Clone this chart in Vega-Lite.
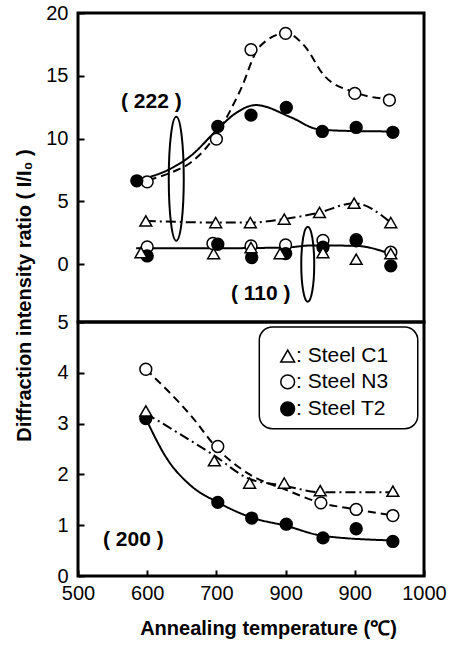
{
  "$schema": "https://vega.github.io/schema/vega-lite/v6.json",
  "background": "white",
  "padding": {"left": 12, "top": 1, "right": 5, "bottom": 5},
  "spacing": 0,
  "bounds": "flush",
  "config": {
    "font": "Liberation Sans",
    "view": {"stroke": "black", "strokeWidth": 3},
    "axis": {
      "labelFont": "Liberation Sans", "labelFontSize": 20, "labelColor": "black", "labelFlush": false,
      "titleFont": "Liberation Sans", "titleFontSize": 20, "titleFontWeight": "bold", "titleColor": "black",
      "domain": false, "grid": false, "tickColor": "black", "tickWidth": 2, "tickSize": 6, "offset": -6, "labelPadding": 10
    }
  },
  "datasets": {
    "points": [
      {"panel": "top", "series": "Steel N3", "x": 600, "y": 6.56},
      {"panel": "top", "series": "Steel N3", "x": 700, "y": 9.96},
      {"panel": "top", "series": "Steel N3", "x": 750, "y": 17.08},
      {"panel": "top", "series": "Steel N3", "x": 800, "y": 18.38},
      {"panel": "top", "series": "Steel N3", "x": 900, "y": 13.6},
      {"panel": "top", "series": "Steel N3", "x": 950, "y": 13.07},
      {"panel": "top", "series": "Steel N3", "x": 600, "y": 1.38},
      {"panel": "top", "series": "Steel N3", "x": 695, "y": 1.65},
      {"panel": "top", "series": "Steel N3", "x": 750, "y": 1.46},
      {"panel": "top", "series": "Steel N3", "x": 800, "y": 1.54},
      {"panel": "top", "series": "Steel N3", "x": 854, "y": 1.9},
      {"panel": "top", "series": "Steel N3", "x": 902, "y": 1.95},
      {"panel": "top", "series": "Steel N3", "x": 952, "y": 0.95},
      {"panel": "top", "series": "Steel T2", "x": 585, "y": 6.64},
      {"panel": "top", "series": "Steel T2", "x": 702, "y": 10.97},
      {"panel": "top", "series": "Steel T2", "x": 750, "y": 11.87},
      {"panel": "top", "series": "Steel T2", "x": 801, "y": 12.48},
      {"panel": "top", "series": "Steel T2", "x": 853, "y": 10.57},
      {"panel": "top", "series": "Steel T2", "x": 902, "y": 10.89},
      {"panel": "top", "series": "Steel T2", "x": 955, "y": 10.5},
      {"panel": "top", "series": "Steel T2", "x": 600, "y": 0.66},
      {"panel": "top", "series": "Steel T2", "x": 702, "y": 1.59},
      {"panel": "top", "series": "Steel T2", "x": 751, "y": 0.53},
      {"panel": "top", "series": "Steel T2", "x": 800, "y": 0.85},
      {"panel": "top", "series": "Steel T2", "x": 854, "y": 1.35},
      {"panel": "top", "series": "Steel T2", "x": 902, "y": 1.86},
      {"panel": "top", "series": "Steel T2", "x": 952, "y": -0.13},
      {"panel": "top", "series": "Steel C1", "x": 598, "y": 3.45},
      {"panel": "top", "series": "Steel C1", "x": 699, "y": 3.32},
      {"panel": "top", "series": "Steel C1", "x": 749, "y": 3.32},
      {"panel": "top", "series": "Steel C1", "x": 798, "y": 3.59},
      {"panel": "top", "series": "Steel C1", "x": 849, "y": 4.12},
      {"panel": "top", "series": "Steel C1", "x": 899, "y": 4.86},
      {"panel": "top", "series": "Steel C1", "x": 952, "y": 3.32},
      {"panel": "top", "series": "Steel C1", "x": 591, "y": 0.93},
      {"panel": "top", "series": "Steel C1", "x": 696, "y": 0.85},
      {"panel": "top", "series": "Steel C1", "x": 750, "y": 1.33},
      {"panel": "top", "series": "Steel C1", "x": 792, "y": 0.85},
      {"panel": "top", "series": "Steel C1", "x": 854, "y": 0.93},
      {"panel": "top", "series": "Steel C1", "x": 902, "y": 0.4},
      {"panel": "top", "series": "Steel C1", "x": 952, "y": 0.85},
      {"panel": "bottom", "series": "Steel N3", "x": 598, "y": 4.07},
      {"panel": "bottom", "series": "Steel N3", "x": 702, "y": 2.55},
      {"panel": "bottom", "series": "Steel N3", "x": 851, "y": 1.44},
      {"panel": "bottom", "series": "Steel N3", "x": 902, "y": 1.31},
      {"panel": "bottom", "series": "Steel N3", "x": 955, "y": 1.19},
      {"panel": "bottom", "series": "Steel T2", "x": 598, "y": 3.1},
      {"panel": "bottom", "series": "Steel T2", "x": 702, "y": 1.45},
      {"panel": "bottom", "series": "Steel T2", "x": 751, "y": 1.14},
      {"panel": "bottom", "series": "Steel T2", "x": 801, "y": 1.02},
      {"panel": "bottom", "series": "Steel T2", "x": 854, "y": 0.75},
      {"panel": "bottom", "series": "Steel T2", "x": 902, "y": 0.93},
      {"panel": "bottom", "series": "Steel T2", "x": 955, "y": 0.68},
      {"panel": "bottom", "series": "Steel C1", "x": 598, "y": 3.25},
      {"panel": "bottom", "series": "Steel C1", "x": 697, "y": 2.27},
      {"panel": "bottom", "series": "Steel C1", "x": 748, "y": 1.83},
      {"panel": "bottom", "series": "Steel C1", "x": 798, "y": 1.83},
      {"panel": "bottom", "series": "Steel C1", "x": 850, "y": 1.68},
      {"panel": "bottom", "series": "Steel C1", "x": 955, "y": 1.67}
    ],
    "curves": [
      {"panel": "top", "curve": "222-T2", "series": "Steel T2", "x": 585, "y": 6.7},
      {"panel": "top", "curve": "222-T2", "series": "Steel T2", "x": 630, "y": 7.5},
      {"panel": "top", "curve": "222-T2", "series": "Steel T2", "x": 663, "y": 8.63},
      {"panel": "top", "curve": "222-T2", "series": "Steel T2", "x": 702, "y": 10.76},
      {"panel": "top", "curve": "222-T2", "series": "Steel T2", "x": 726, "y": 11.95},
      {"panel": "top", "curve": "222-T2", "series": "Steel T2", "x": 757, "y": 12.67},
      {"panel": "top", "curve": "222-T2", "series": "Steel T2", "x": 808, "y": 11.69},
      {"panel": "top", "curve": "222-T2", "series": "Steel T2", "x": 846, "y": 10.76},
      {"panel": "top", "curve": "222-T2", "series": "Steel T2", "x": 885, "y": 10.62},
      {"panel": "top", "curve": "222-T2", "series": "Steel T2", "x": 955, "y": 10.57},
      {"panel": "top", "curve": "222-N3", "series": "Steel N3", "x": 602, "y": 6.7},
      {"panel": "top", "curve": "222-N3", "series": "Steel N3", "x": 639, "y": 7.4},
      {"panel": "top", "curve": "222-N3", "series": "Steel N3", "x": 663, "y": 8.1},
      {"panel": "top", "curve": "222-N3", "series": "Steel N3", "x": 702, "y": 10.5},
      {"panel": "top", "curve": "222-N3", "series": "Steel N3", "x": 735, "y": 13.9},
      {"panel": "top", "curve": "222-N3", "series": "Steel N3", "x": 762, "y": 17.3},
      {"panel": "top", "curve": "222-N3", "series": "Steel N3", "x": 801, "y": 18.4},
      {"panel": "top", "curve": "222-N3", "series": "Steel N3", "x": 827, "y": 17.4},
      {"panel": "top", "curve": "222-N3", "series": "Steel N3", "x": 856, "y": 15.0},
      {"panel": "top", "curve": "222-N3", "series": "Steel N3", "x": 899, "y": 13.7},
      {"panel": "top", "curve": "222-N3", "series": "Steel N3", "x": 955, "y": 13.1},
      {"panel": "top", "curve": "222-C1", "series": "Steel C1", "x": 598, "y": 3.45},
      {"panel": "top", "curve": "222-C1", "series": "Steel C1", "x": 699, "y": 3.32},
      {"panel": "top", "curve": "222-C1", "series": "Steel C1", "x": 749, "y": 3.32},
      {"panel": "top", "curve": "222-C1", "series": "Steel C1", "x": 798, "y": 3.59},
      {"panel": "top", "curve": "222-C1", "series": "Steel C1", "x": 849, "y": 4.12},
      {"panel": "top", "curve": "222-C1", "series": "Steel C1", "x": 899, "y": 4.86},
      {"panel": "top", "curve": "222-C1", "series": "Steel C1", "x": 952, "y": 3.32},
      {"panel": "top", "curve": "110-T2", "series": "Steel T2", "x": 584, "y": 1.27},
      {"panel": "top", "curve": "110-T2", "series": "Steel T2", "x": 690, "y": 1.27},
      {"panel": "top", "curve": "110-T2", "series": "Steel T2", "x": 800, "y": 1.33},
      {"panel": "top", "curve": "110-T2", "series": "Steel T2", "x": 839, "y": 1.5},
      {"panel": "top", "curve": "110-T2", "series": "Steel T2", "x": 902, "y": 1.46},
      {"panel": "top", "curve": "110-T2", "series": "Steel T2", "x": 955, "y": 0.75},
      {"panel": "bottom", "curve": "200-T2", "series": "Steel T2", "x": 598, "y": 3.1},
      {"panel": "bottom", "curve": "200-T2", "series": "Steel T2", "x": 629, "y": 2.3},
      {"panel": "bottom", "curve": "200-T2", "series": "Steel T2", "x": 663, "y": 1.78},
      {"panel": "bottom", "curve": "200-T2", "series": "Steel T2", "x": 702, "y": 1.45},
      {"panel": "bottom", "curve": "200-T2", "series": "Steel T2", "x": 751, "y": 1.15},
      {"panel": "bottom", "curve": "200-T2", "series": "Steel T2", "x": 800, "y": 0.99},
      {"panel": "bottom", "curve": "200-T2", "series": "Steel T2", "x": 854, "y": 0.79},
      {"panel": "bottom", "curve": "200-T2", "series": "Steel T2", "x": 955, "y": 0.7},
      {"panel": "bottom", "curve": "200-N3", "series": "Steel N3", "x": 598, "y": 4.07},
      {"panel": "bottom", "curve": "200-N3", "series": "Steel N3", "x": 663, "y": 3.16},
      {"panel": "bottom", "curve": "200-N3", "series": "Steel N3", "x": 702, "y": 2.5},
      {"panel": "bottom", "curve": "200-N3", "series": "Steel N3", "x": 748, "y": 2.0},
      {"panel": "bottom", "curve": "200-N3", "series": "Steel N3", "x": 798, "y": 1.71},
      {"panel": "bottom", "curve": "200-N3", "series": "Steel N3", "x": 851, "y": 1.44},
      {"panel": "bottom", "curve": "200-N3", "series": "Steel N3", "x": 902, "y": 1.31},
      {"panel": "bottom", "curve": "200-N3", "series": "Steel N3", "x": 955, "y": 1.19},
      {"panel": "bottom", "curve": "200-C1", "series": "Steel C1", "x": 598, "y": 3.2},
      {"panel": "bottom", "curve": "200-C1", "series": "Steel C1", "x": 697, "y": 2.37},
      {"panel": "bottom", "curve": "200-C1", "series": "Steel C1", "x": 748, "y": 1.91},
      {"panel": "bottom", "curve": "200-C1", "series": "Steel C1", "x": 798, "y": 1.78},
      {"panel": "bottom", "curve": "200-C1", "series": "Steel C1", "x": 850, "y": 1.65},
      {"panel": "bottom", "curve": "200-C1", "series": "Steel C1", "x": 955, "y": 1.65}
    ],
    "labels": [
      {"panel": "top", "text": "( 222 )", "x": 606, "y": 12.9},
      {"panel": "top", "text": "( 110 )", "x": 764, "y": -2.35},
      {"panel": "bottom", "text": "( 200 )", "x": 580, "y": 0.71}
    ],
    "ellipses": [
      {"group": "222", "x": 642, "y": 6.8},
      {"group": "110", "x": 832, "y": 0.0}
    ],
    "legendBox": [
      {"x": 762, "x2": 991, "y": 4.9, "y2": 2.9}
    ],
    "legendItems": [
      {"series": "Steel C1", "label": ": Steel C1", "x": 803, "tx": 815, "y": 4.33},
      {"series": "Steel N3", "label": ": Steel N3", "x": 803, "tx": 815, "y": 3.82},
      {"series": "Steel T2", "label": ": Steel T2", "x": 803, "tx": 815, "y": 3.29}
    ]
  },
  "vconcat": [
    {
      "width": 346,
      "height": 309,
      "layer": [
        {
          "data": {"name": "curves"},
          "transform": [{"filter": "datum.panel == 'top'"}],
          "mark": {"type": "line", "interpolate": "monotone", "color": "black", "strokeWidth": 2},
          "encoding": {
            "x": {"field": "x", "type": "quantitative", "scale": {"domain": [500, 1000], "nice": false, "zero": false}, "axis": null},
            "y": {"field": "y", "type": "quantitative", "scale": {"domain": [-4.6, 20], "nice": false, "zero": false},
              "axis": {"values": [0, 2.5, 5, 7.5, 10, 12.5, 15, 17.5, 20], "labelExpr": "datum.value % 5 == 0 ? datum.label : ''",
                "title": "Diffraction intensity ratio ( I/I₀ )", "titleX": -60, "titleY": 282, "titleBaseline": "middle", "titleAngle": -90}},
            "detail": {"field": "curve"},
            "strokeDash": {"field": "series", "type": "nominal", "scale": {"domain": ["Steel C1", "Steel N3", "Steel T2"], "range": [[10, 4, 2, 4], [8, 5], [1, 0]]}, "legend": null}
          }
        },
        {
          "data": {"name": "points"},
          "transform": [{"filter": "datum.panel == 'top'"}],
          "mark": {"type": "point", "filled": true, "stroke": "black", "strokeWidth": 1.5, "size": 140, "opacity": 1},
          "encoding": {
            "x": {"field": "x", "type": "quantitative"},
            "y": {"field": "y", "type": "quantitative"},
            "shape": {"field": "series", "type": "nominal", "scale": {"domain": ["Steel C1", "Steel N3", "Steel T2"], "range": ["triangle-up", "circle", "circle"]}, "legend": null},
            "fill": {"field": "series", "type": "nominal", "scale": {"domain": ["Steel C1", "Steel N3", "Steel T2"], "range": ["white", "white", "black"]}, "legend": null}
          }
        },
        {
          "data": {"name": "ellipses"},
          "transform": [{"filter": "datum.group == '222'"}],
          "mark": {"type": "point", "shape": "M0,-1 C0.0668,-1 0.121,-0.5523 0.121,0 C0.121,0.5523 0.0668,1 0,1 C-0.0668,1 -0.121,0.5523 -0.121,0 C-0.121,-0.5523 -0.0668,-1 0,-1 Z", "size": 15376, "filled": false, "stroke": "black", "strokeWidth": 2, "opacity": 1},
          "encoding": {
            "x": {"field": "x", "type": "quantitative"},
            "y": {"field": "y", "type": "quantitative"}
          }
        },
        {
          "data": {"name": "ellipses"},
          "transform": [{"filter": "datum.group == '110'"}],
          "mark": {"type": "point", "shape": "M0,-1 C0.0957,-1 0.173,-0.5523 0.173,0 C0.173,0.5523 0.0957,1 0,1 C-0.0957,1 -0.173,0.5523 -0.173,0 C-0.173,-0.5523 -0.0957,-1 0,-1 Z", "size": 5625, "filled": false, "stroke": "black", "strokeWidth": 2, "opacity": 1},
          "encoding": {
            "x": {"field": "x", "type": "quantitative"},
            "y": {"field": "y", "type": "quantitative"}
          }
        },
        {
          "data": {"name": "labels"},
          "transform": [{"filter": "datum.panel == 'top'"}],
          "mark": {"type": "text", "font": "Liberation Sans", "fontSize": 21, "fontWeight": "bold", "color": "black", "align": "center", "baseline": "middle"},
          "encoding": {
            "x": {"field": "x", "type": "quantitative"},
            "y": {"field": "y", "type": "quantitative"},
            "text": {"field": "text"}
          }
        }
      ]
    },
    {
      "width": 346,
      "height": 254,
      "layer": [
        {
          "data": {"name": "curves"},
          "transform": [{"filter": "datum.panel == 'bottom'"}],
          "mark": {"type": "line", "interpolate": "monotone", "color": "black", "strokeWidth": 2},
          "encoding": {
            "x": {"field": "x", "type": "quantitative", "scale": {"domain": [500, 1000], "nice": false, "zero": false},
              "axis": {"values": [500, 550, 600, 650, 700, 750, 800, 850, 900, 950, 1000], "format": "d",
                "labelExpr": "datum.value % 100 == 0 ? (datum.value == 800 ? '900' : datum.label) : ''",
                "labelDx": 3, "labelPadding": 7,
                "title": "Annealing temperature (℃)", "titleX": 190, "titleY": 58, "titleBaseline": "middle"}},
            "y": {"field": "y", "type": "quantitative", "scale": {"domain": [0, 5], "nice": false, "zero": false},
              "axis": {"values": [0, 0.5, 1, 1.5, 2, 2.5, 3, 3.5, 4, 4.5, 5], "labelExpr": "datum.value % 1 == 0 ? datum.label : ''", "title": null}},
            "detail": {"field": "curve"},
            "strokeDash": {"field": "series", "type": "nominal", "scale": {"domain": ["Steel C1", "Steel N3", "Steel T2"], "range": [[10, 4, 2, 4], [8, 5], [1, 0]]}, "legend": null}
          }
        },
        {
          "data": {"name": "points"},
          "transform": [{"filter": "datum.panel == 'bottom'"}],
          "mark": {"type": "point", "filled": true, "stroke": "black", "strokeWidth": 1.5, "size": 140, "opacity": 1},
          "encoding": {
            "x": {"field": "x", "type": "quantitative"},
            "y": {"field": "y", "type": "quantitative"},
            "shape": {"field": "series", "type": "nominal", "scale": {"domain": ["Steel C1", "Steel N3", "Steel T2"], "range": ["triangle-up", "circle", "circle"]}, "legend": null},
            "fill": {"field": "series", "type": "nominal", "scale": {"domain": ["Steel C1", "Steel N3", "Steel T2"], "range": ["white", "white", "black"]}, "legend": null}
          }
        },
        {
          "data": {"name": "labels"},
          "transform": [{"filter": "datum.panel == 'bottom'"}],
          "mark": {"type": "text", "font": "Liberation Sans", "fontSize": 21, "fontWeight": "bold", "color": "black", "align": "center", "baseline": "middle"},
          "encoding": {
            "x": {"field": "x", "type": "quantitative"},
            "y": {"field": "y", "type": "quantitative"},
            "text": {"field": "text"}
          }
        },
        {
          "data": {"name": "legendBox"},
          "mark": {"type": "rect", "fill": "white", "stroke": "black", "strokeWidth": 1.5, "cornerRadius": 13},
          "encoding": {
            "x": {"field": "x", "type": "quantitative"},
            "x2": {"field": "x2"},
            "y": {"field": "y", "type": "quantitative"},
            "y2": {"field": "y2"}
          }
        },
        {
          "data": {"name": "legendItems"},
          "mark": {"type": "point", "filled": true, "stroke": "black", "strokeWidth": 1.5, "size": 190, "opacity": 1},
          "encoding": {
            "x": {"field": "x", "type": "quantitative"},
            "y": {"field": "y", "type": "quantitative"},
            "shape": {"field": "series", "type": "nominal", "legend": null},
            "fill": {"field": "series", "type": "nominal", "legend": null}
          }
        },
        {
          "data": {"name": "legendItems"},
          "mark": {"type": "text", "font": "Liberation Sans", "fontSize": 21, "color": "black", "align": "left", "baseline": "middle"},
          "encoding": {
            "x": {"field": "tx", "type": "quantitative"},
            "y": {"field": "y", "type": "quantitative"},
            "text": {"field": "label"}
          }
        }
      ]
    }
  ]
}
